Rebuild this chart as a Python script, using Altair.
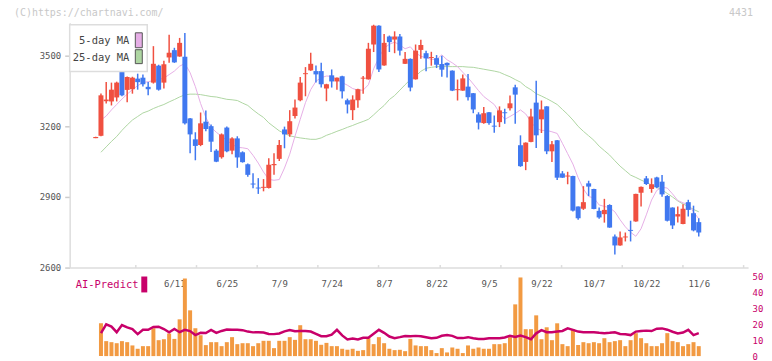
import altair as alt
import pandas as pd

# ---------------- data ----------------
date_labels = ["6/11", "6/25", "7/9", "7/24", "8/7", "8/22", "9/5", "9/22", "10/7", "10/22", "11/6"]
date_label_idx = [15, 25, 35, 45, 55, 65, 75, 85, 95, 105, 115]

open_ = [3150, 3160, 3307, 3306, 3323, 3431, 3355, 3358, 3403, 3407,
         3368, 3386, 3458, 3386, 3493, 3524, 3497, 3496, 3234, 3145,
         3121, 3220, 3201, 3097, 3069, 3195, 3097, 3149, 3090, 3039,
         2957, 2940, 2939, 2938, 3035, 3062, 3187, 3166, 3244, 3311,
         3422, 3438, 3435, 3435, 3361, 3417, 3391, 3413, 3311, 3269,
         3311, 3403, 3400, 3548, 3628, 3459, 3582, 3569, 3582, 3466,
         3487, 3400, 3525, 3511, 3491, 3490, 3465, 3470, 3437, 3354,
         3352, 3369, 3341, 3251, 3214, 3260, 3203, 3218, 3260, 3277,
         3366, 3120, 3049, 3134, 3301, 3230, 3285, 3094, 3141, 3000,
         2987, 2989, 2859, 2850, 2958, 2934, 2841, 2827, 2866, 2732,
         2694, 2728, 2760, 2796, 2918, 2979, 2934, 2983, 2965, 2904,
         2855, 2817, 2785, 2878, 2831, 2793]
high = [3156, 3340, 3389, 3386, 3390, 3445, 3412, 3411, 3424, 3420,
        3389, 3541, 3462, 3479, 3589, 3534, 3576, 3597, 3236, 3175,
        3259, 3268, 3208, 3103, 3170, 3200, 3154, 3158, 3094, 3042,
        3001, 2980, 2976, 3065, 3086, 3142, 3199, 3269, 3314, 3410,
        3452, 3513, 3459, 3470, 3381, 3442, 3408, 3415, 3318, 3332,
        3360, 3414, 3555, 3632, 3630, 3593, 3586, 3604, 3593, 3516,
        3489, 3548, 3568, 3521, 3517, 3503, 3500, 3472, 3438, 3399,
        3420, 3423, 3342, 3260, 3282, 3261, 3246, 3285, 3275, 3331,
        3377, 3162, 3132, 3275, 3394, 3310, 3286, 3138, 3142, 3010,
        3007, 2990, 2860, 2946, 2969, 2935, 2855, 2892, 2869, 2740,
        2753, 2749, 2799, 2914, 2944, 2989, 2979, 2986, 2993, 2908,
        2856, 2859, 2869, 2888, 2863, 2810]
low = [3150, 3158, 3297, 3289, 3306, 3328, 3303, 3339, 3356, 3369,
       3332, 3382, 3352, 3361, 3470, 3470, 3496, 3208, 3086, 3056,
       3116, 3179, 3091, 3048, 3063, 3090, 3082, 3024, 3046, 2986,
       2937, 2913, 2924, 2936, 2994, 3053, 3107, 3156, 3234, 3307,
       3328, 3436, 3386, 3365, 3307, 3365, 3356, 3318, 3255, 3227,
       3279, 3339, 3399, 3516, 3431, 3458, 3516, 3511, 3501, 3465,
       3349, 3399, 3487, 3434, 3458, 3448, 3411, 3408, 3350, 3310,
       3351, 3310, 3256, 3187, 3211, 3207, 3173, 3197, 3211, 3268,
       3211, 3028, 3014, 3133, 3108, 3172, 3082, 3049, 2972, 2981,
       2954, 2838, 2803, 2845, 2904, 2848, 2807, 2791, 2769, 2655,
       2693, 2711, 2711, 2795, 2859, 2951, 2918, 2937, 2901, 2796,
       2764, 2791, 2784, 2817, 2754, 2732]
close = [3155, 3332, 3314, 3356, 3386, 3332, 3410, 3407, 3388, 3379,
         3358, 3466, 3356, 3464, 3513, 3472, 3555, 3213, 3166, 3117,
         3213, 3189, 3135, 3050, 3166, 3094, 3149, 3068, 3048, 2994,
         2953, 2936, 2943, 3037, 3040, 3121, 3166, 3222, 3280, 3386,
         3426, 3466, 3421, 3379, 3379, 3391, 3407, 3349, 3293, 3314,
         3358, 3407, 3530, 3628, 3442, 3555, 3558, 3582, 3522, 3487,
         3365, 3522, 3546, 3489, 3495, 3462, 3441, 3459, 3352, 3358,
         3404, 3324, 3272, 3216, 3256, 3214, 3199, 3268, 3256, 3298,
         3335, 3031, 3131, 3242, 3162, 3272, 3094, 3124, 2982, 2982,
         2991, 2842, 2810, 2878, 2944, 2849, 2813, 2845, 2770, 2694,
         2728, 2732, 2756, 2913, 2943, 2955, 2954, 2941, 2911, 2799,
         2779, 2827, 2850, 2845, 2758, 2749]
ma5 = [None, 3227, 3244, 3270, 3293, 3316, 3337, 3356, 3373, 3386,
       3390, 3394, 3399, 3405, 3420, 3435, 3456, 3467, 3428, 3369,
       3297, 3238, 3196, 3175, 3158, 3141, 3124, 3111, 3109, 3105,
       3077, 3044, 3006, 2975, 2971, 2974, 3023, 3082, 3158, 3230,
       3301, 3356, 3392, 3407, 3414, 3413, 3399, 3386, 3375, 3361,
       3354, 3354, 3377, 3445, 3492, 3532, 3549, 3558, 3546, 3530,
       3538, 3513, 3498, 3492, 3485, 3485, 3504, 3483, 3470, 3454,
       3430, 3407, 3380, 3352, 3327, 3310, 3293, 3259, 3230, 3242,
       3255, 3270, 3253, 3219, 3192, 3183, 3183, 3177, 3170, 3128,
       3084, 3040, 2982, 2934, 2902, 2896, 2866, 2860, 2854, 2837,
       2803, 2773, 2750, 2733, 2765, 2824, 2887, 2928, 2941, 2938,
       2913, 2885, 2875, 2868, 2837, 2807]
ma25 = [None, 3090, 3113, 3136, 3157, 3183, 3206, 3227, 3242, 3257,
        3265, 3276, 3285, 3293, 3304, 3314, 3325, 3334, 3337, 3337,
        3335, 3331, 3327, 3325, 3320, 3315, 3313, 3310, 3299, 3289,
        3270, 3253, 3238, 3215, 3198, 3181, 3170, 3160, 3155, 3151,
        3148, 3145, 3145, 3151, 3162, 3170, 3179, 3187, 3196, 3204,
        3213, 3221, 3230, 3249, 3270, 3289, 3314, 3331, 3354, 3377,
        3399, 3413, 3434, 3447, 3451, 3454, 3454, 3454, 3454, 3454,
        3454, 3452, 3451, 3447, 3443, 3439, 3435, 3430, 3420, 3411,
        3399, 3388, 3369, 3356, 3339, 3329, 3318, 3306, 3293, 3272,
        3251, 3227, 3200, 3179, 3160, 3141, 3116, 3097, 3078, 3054,
        3031, 3012, 2993, 2983, 2972, 2962, 2951, 2941, 2930, 2915,
        2900, 2883, 2870, 2860, 2847, 2837]
volume = [None, 20.6, 9.4, 8.75, 8.1, 9.4, 8.75, 6.7, 4.6, 6.25,
          6.25, 17.5, 10, 10.6, 14.2, 10.8, 23.1, 48.75, 28.75, 17.5,
          13.1, 6.9, 8.75, 8.75, 6.25, 8.75, 11.9, 7.5, 8.1, 8.1,
          6.25, 8.1, 9.6, 9.6, 5, 9.6, 9.6, 11.9, 10.2, 19.4,
          10.6, 10.6, 9.6, 7.1, 8.3, 6.25, 6.25, 4.6, 4, 4.6,
          3.3, 3.75, 11.25, 7.5, 11.9, 8.1, 4.6, 3.75, 3.96, 3.1,
          10.8, 6.7, 6.25, 6.25, 3.75, 1.9, 5, 2.3, 5.4, 4.6,
          1.9, 6.7, 4.6, 5.4, 4.6, 4.6, 7.5, 7.5, 8.1, 11.9,
          32.5, 49.4, 16.9, 16.9, 25.6, 10.6, 18.1, 10, 20.6, 7.5,
          6.25, 16.9, 6.9, 8.75, 8.1, 8.75, 8.1, 11.25, 8.75, 9.4,
          10, 6.25, 10, 14.4, 11.25, 8.1, 6.25, 6.25, 8.1, 14.4,
          9.4, 8.75, 6.25, 7.5, 8.75, 6.25]
ai_predict = [None, 14.4, 20, 18.5, 15, 19.5, 18, 17, 13.8, 16.5,
              16.5, 18.3, 18.5, 17, 15, 17, 15, 16.5, 15.7, 13.2,
              14.6, 14.5, 16.5, 14.6, 15.8, 16.7, 16.5, 16.5, 16.3, 15.4,
              14.9, 15, 14.8, 13.9, 13.8, 14.2, 15.5, 16.4, 15.6, 15.8,
              15.8, 15.4, 14, 12.5, 12.5, 13.5, 16.5, 13, 10.5, 11,
              10.5, 11.5, 11.5, 14, 16.5, 14.6, 12.3, 11.3, 11.9, 12.6,
              12.4, 12.7, 12.5, 11.9, 11.25, 11.5, 12.8, 13.3, 12.7, 11.3,
              11.3, 11.9, 11.2, 10.8, 10.8, 11.25, 11.25, 11.25, 11.7, 12.8,
              12, 12.9, 11.9, 10.6, 14.3, 16.3, 15, 15, 15.4, 15.8,
              17.4, 16.5, 15.4, 15, 15, 15, 14.6, 14.4, 14.6, 15,
              13.9, 13.75, 13.2, 15.4, 15.8, 16, 15.7, 17.2, 17.4, 16.6,
              15.3, 14.2, 14.8, 16.5, 13.2, 14.4]
legend_names = ["5-day MA", "25-day MA"]

# ---------------- layout / style ----------------
RED, BLUE = "#f05040", "#4078f0"
PINK, GREEN = "#e6aee6", "#aed6a2"
ORANGE, MAGENTA = "#f29a42", "#c8006a"
AXIS_GRAY = "#dddddd"
FONT = "DejaVu Sans Mono"

VIEW_W, VIEW_H = 682, 336
X0_PX, DX_PX = 21.5, 5.35          # pixel of first candle and spacing
x_dom = [(0 - X0_PX) / DX_PX, (VIEW_W - X0_PX) / DX_PX]
axis_tick_values = [(62 * k - X0_PX) / DX_PX for k in range(1, 12)]

n = len(close)
df = pd.DataFrame({
    "i": list(range(n)), "open": open_, "high": high, "low": low, "close": close,
    "ma5": ma5, "ma25": ma25, "volume": volume, "ai": ai_predict,
})
df["dir"] = ["up" if c >= o else "down" for o, c in zip(open_, close)]

xs = alt.Scale(domain=x_dom, nice=False, zero=False)
ps = alt.Scale(domain=[2600, 3640], range=[246, 0], nice=False, zero=False)
vs = alt.Scale(domain=[0, 50], range=[335, 255], nice=False)
col = alt.Color("dir:N", scale=alt.Scale(domain=["up", "down"], range=[RED, BLUE]), legend=None)

base = alt.Chart(df)

x_top_axis = alt.Axis(orient="top", offset=-246, values=axis_tick_values, labels=False,
                      ticks=True, tickSize=3, tickColor=AXIS_GRAY, tickWidth=1.5,
                      domainColor=AXIS_GRAY, domainWidth=1.5, grid=False, title=None)
y_left_axis = alt.Axis(orient="left", values=[2600, 2900, 3200, 3500], format="d", tickSize=5,
                       tickColor="#cccccc", tickWidth=1.5, domainColor=AXIS_GRAY, domainWidth=1.5,
                       labelColor="#555555", labelFontSize=9, labelPadding=4, grid=False, title=None)

ma25_line = base.mark_line(color=GREEN, strokeWidth=1).encode(
    x=alt.X("i:Q", scale=xs, axis=x_top_axis),
    y=alt.Y("ma25:Q", scale=ps, axis=y_left_axis))
ma5_line = base.mark_line(color=PINK, strokeWidth=1).encode(
    x=alt.X("i:Q", scale=xs), y=alt.Y("ma5:Q", scale=ps))
wick = base.mark_rule(strokeWidth=1.5).encode(
    x=alt.X("i:Q", scale=xs), y=alt.Y("low:Q", scale=ps), y2="high:Q", color=col)
body = base.mark_bar(size=5).encode(
    x=alt.X("i:Q", scale=xs), y=alt.Y("open:Q", scale=ps), y2="close:Q", color=col)
price = alt.layer(ma25_line, ma5_line, wick, body)

label_expr = ("[" + ",".join("'%s'" % s for s in date_labels) + "][indexof(["
              + ",".join(str(v) for v in date_label_idx) + "], datum.value)]")
x_bottom_axis = alt.Axis(orient="bottom", offset=-79, values=date_label_idx, labelExpr=label_expr,
                         ticks=False, tickSize=0, domain=False, labelPadding=1,
                         labelColor="#555555", labelFontSize=9, grid=False, title=None)
y_right_axis = alt.Axis(orient="right", values=[0, 10, 20, 30, 40, 50], ticks=False, tickSize=0,
                        domain=False, labelColor=MAGENTA, labelFontSize=9, labelPadding=4,
                        grid=False, title=None)
vol_bars = base.mark_bar(size=4, color=ORANGE).encode(
    x=alt.X("i:Q", scale=xs, axis=x_bottom_axis),
    y=alt.Y("volume:Q", scale=vs, axis=y_right_axis))
ai_line = base.mark_line(color=MAGENTA, strokeWidth=2.5).encode(
    x=alt.X("i:Q", scale=xs), y=alt.Y("ai:Q", scale=vs))
lower = alt.layer(vol_bars, ai_line)

# ---------------- decorations: legend box, labels, watermarks ----------------
one = alt.Chart(pd.DataFrame({"k": [0]}))
leg_box = one.mark_rect(fill="white", stroke=AXIS_GRAY, strokeWidth=1.5).encode(
    x=alt.value(0), x2=alt.value(78), y=alt.value(2), y2=alt.value(49))
leg_t1 = one.mark_text(text=legend_names[0], align="right", baseline="middle", font=FONT,
                       fontSize=10.5, color="#444444").encode(x=alt.value(60), y=alt.value(18))
leg_t2 = one.mark_text(text=legend_names[1], align="right", baseline="middle", font=FONT,
                       fontSize=10.5, color="#444444").encode(x=alt.value(60), y=alt.value(35))
leg_s1 = one.mark_rect(fill=PINK, stroke="#555555", strokeWidth=1).encode(
    x=alt.value(66), x2=alt.value(73), y=alt.value(10), y2=alt.value(25))
leg_s2 = one.mark_rect(fill=GREEN, stroke="#555555", strokeWidth=1).encode(
    x=alt.value(66), x2=alt.value(73), y=alt.value(27), y2=alt.value(41))
ai_t = one.mark_text(text="AI-Predict", align="left", baseline="middle", font=FONT,
                     fontSize=10.5, color=MAGENTA).encode(x=alt.value(6), y=alt.value(264))
ai_s = one.mark_rect(fill=MAGENTA).encode(
    x=alt.value(72), x2=alt.value(78), y=alt.value(255), y2=alt.value(271))
wm1 = one.mark_text(text="(C)https://chartnavi.com/", align="left", baseline="middle", font=FONT,
                    fontSize=10, color="#c8c8c8").encode(x=alt.value(-56), y=alt.value(-10))
wm2 = one.mark_text(text="4431", align="right", baseline="middle", font=FONT,
                    fontSize=10, color="#c8c8c8").encode(x=alt.value(687), y=alt.value(-10))
deco = alt.layer(leg_box, leg_t1, leg_t2, leg_s1, leg_s2, ai_t, ai_s, wm1, wm2)

chart = alt.layer(price, lower, deco).resolve_scale(
    x="independent", y="independent", color="independent"
).properties(
    width=VIEW_W, height=VIEW_H,
    padding={"left": 62, "top": 14, "right": 16, "bottom": 3},
    autosize=alt.AutoSizeParams(type="none"),
    background="white",
).configure_view(stroke=None).configure_axis(labelFont=FONT)

chart.save("out.html", embed_options={"renderer": "svg", "actions": False})
